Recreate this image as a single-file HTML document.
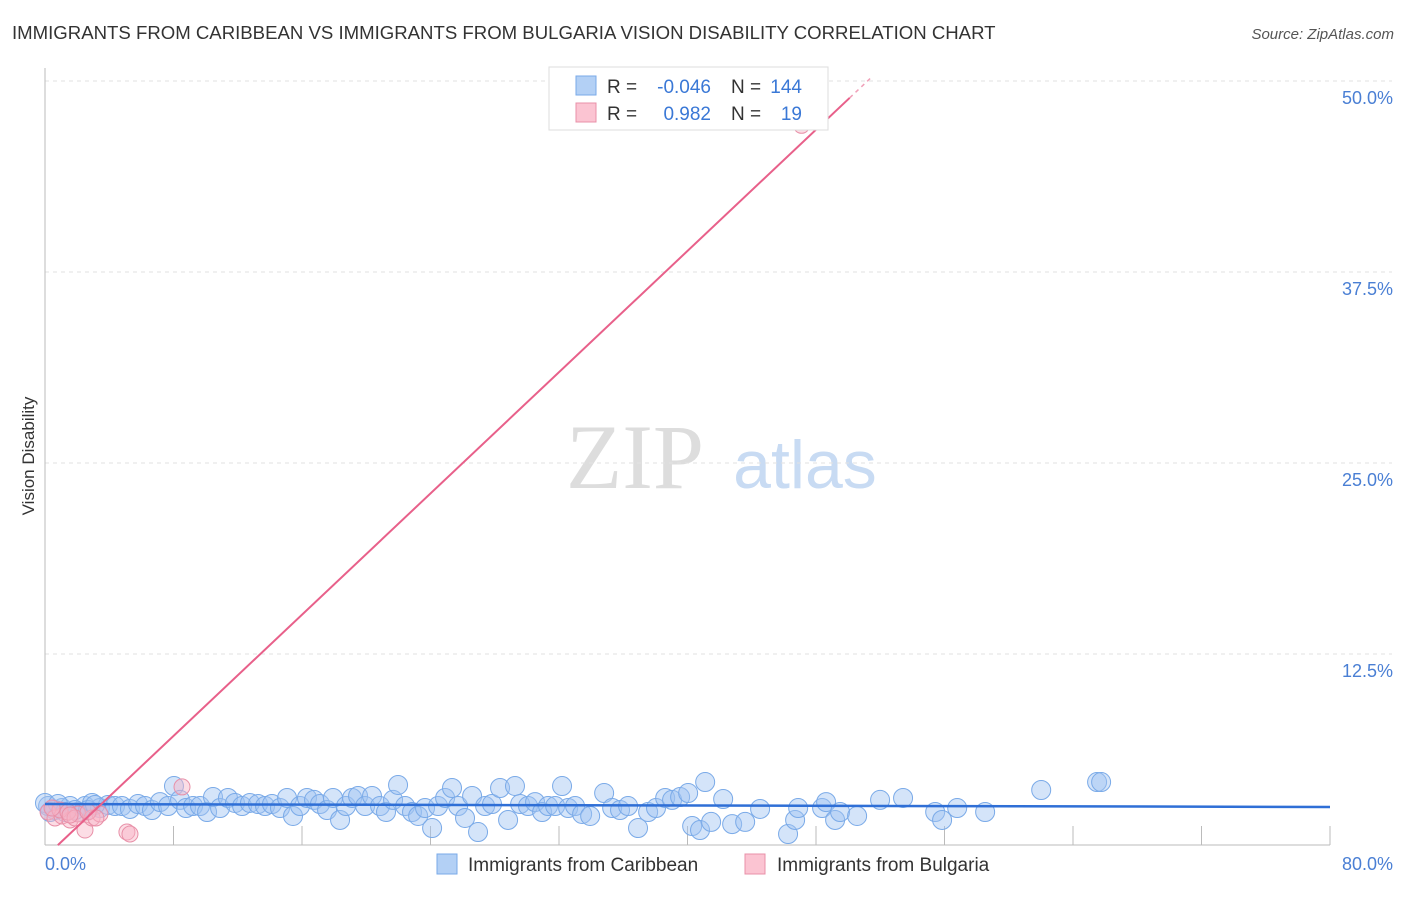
<!DOCTYPE html>
<html><head><meta charset="utf-8"><style>
body{margin:0;background:#fff;width:1406px;height:892px;overflow:hidden;font-family:"Liberation Sans",sans-serif}
</style></head><body>
<svg id="chart" width="1406" height="892" xmlns="http://www.w3.org/2000/svg" font-family="Liberation Sans, sans-serif">
<text x="12" y="39" font-size="18.6" fill="#333">IMMIGRANTS FROM CARIBBEAN VS IMMIGRANTS FROM BULGARIA VISION DISABILITY CORRELATION CHART</text>
<text x="1394" y="39" font-size="15" fill="#555" font-style="italic" text-anchor="end">Source: ZipAtlas.com</text>
<text transform="translate(34,456) rotate(-90)" font-size="17" fill="#333" text-anchor="middle">Vision Disability</text>
<g>
<text x="635" y="488" font-size="92" fill="#ddd" font-family="Liberation Serif, serif" text-anchor="middle">ZIP</text>
<text x="805" y="488" font-size="68" fill="#c8dbf3" text-anchor="middle">atlas</text>
</g>
<g id="grid"></g><g id="axes"></g><g id="pts"></g><g id="lines"></g>
<g>
<rect x="549" y="67" width="279" height="63" fill="#fff" stroke="#ddd"/>
<rect x="576" y="76" width="20" height="19" fill="#b3d0f5" stroke="#7aaae8"/>
<rect x="576" y="103" width="20" height="19" fill="#fbc4d2" stroke="#e890a8"/>
<text x="607" y="93" font-size="19" fill="#333">R =</text>
<text x="711" y="93" font-size="19" fill="#3a78d6" text-anchor="end">-0.046</text>
<text x="731" y="93" font-size="19" fill="#333">N =</text>
<text x="802" y="93" font-size="19" fill="#3a78d6" text-anchor="end">144</text>
<text x="607" y="120" font-size="19" fill="#333">R =</text>
<text x="711" y="120" font-size="19" fill="#3a78d6" text-anchor="end">0.982</text>
<text x="731" y="120" font-size="19" fill="#333">N =</text>
<text x="802" y="120" font-size="19" fill="#3a78d6" text-anchor="end">19</text>
</g>
<g>
<rect x="437" y="854" width="20" height="20" fill="#b3d0f5" stroke="#7aaae8"/>
<text x="468" y="871" font-size="19" fill="#333">Immigrants from Caribbean</text>
<rect x="745" y="854" width="20" height="20" fill="#fbc4d2" stroke="#e890a8"/>
<text x="777" y="871" font-size="19" fill="#333">Immigrants from Bulgaria</text>
</g>
</svg>
<script>
const yTicks=[12.5,25,37.5,50];
const yTickLabels=["12.5%","25.0%","37.5%","50.0%"];
const xTickLabels=["0.0%","80.0%"];
const caribX=[0.19,0.62,1.06,1.56,2.05,2.49,2.93,3.42,3.92,4.36,4.79,5.29,5.79,6.23,6.66,7.16,7.66,8.03,8.41,8.78,9.22,9.65,10.09,10.46,10.90,11.39,11.83,12.27,12.76,13.26,13.70,14.13,14.63,15.07,15.44,15.88,16.31,16.75,17.12,17.56,17.93,18.37,18.74,19.12,19.49,19.93,20.36,20.86,21.23,21.67,21.98,22.42,22.85,23.23,23.66,24.10,24.47,24.91,25.34,25.72,26.15,26.59,26.96,27.40,27.83,28.33,28.83,29.26,29.58,30.07,30.51,30.95,31.32,31.76,32.19,32.57,33.00,33.44,33.94,34.81,35.31,35.80,36.30,36.92,37.55,38.04,38.61,39.04,39.54,40.04,40.29,40.78,41.10,41.47,42.22,42.78,43.59,44.52,46.26,46.70,46.89,48.38,48.63,49.19,49.50,50.56,51.99,53.42,55.42,55.85,56.79,58.53,62.02,65.50,65.75,0.0,0.31,0.81,1.25,1.87,2.68,3.11];
const caribY=[2.55,2.29,2.42,2.55,2.16,2.55,2.75,2.42,2.62,2.55,2.55,2.36,2.68,2.55,2.29,2.81,2.55,3.86,2.95,2.42,2.55,2.55,2.16,3.14,2.42,3.08,2.75,2.55,2.75,2.68,2.55,2.68,2.42,3.08,1.90,2.55,3.08,2.95,2.68,2.29,3.08,1.64,2.55,3.08,3.21,2.55,3.21,2.55,2.16,2.95,3.93,2.55,2.16,1.90,2.42,1.11,2.55,3.08,3.73,2.55,1.77,3.21,0.85,2.55,2.68,3.73,1.64,3.86,2.68,2.55,2.81,2.16,2.55,2.55,3.86,2.42,2.55,2.03,1.90,3.40,2.42,2.29,2.55,1.11,2.16,2.42,3.08,2.95,3.14,3.40,1.24,0.98,4.12,1.51,3.01,1.37,1.51,2.36,0.72,1.64,2.42,2.42,2.81,1.64,2.16,1.90,2.95,3.08,2.16,1.64,2.42,2.16,3.60,4.12,4.12,2.75,2.16,2.68,2.16,2.29,2.29,2.62];
const bulgX=[0.19,0.62,1.06,1.56,2.05,2.49,2.93,3.42,5.10,5.29,8.53,0.93,1.43,1.87,0.44,2.68,3.17,47.1,1.56];
const bulgY=[2.16,1.77,1.90,1.64,2.03,0.98,1.77,2.03,0.85,0.72,3.80,2.29,2.16,1.77,2.42,2.16,1.77,47.1,1.96];
const caribTrend=[2.68,2.49];
const bulgTrend=[-0.8,48.8,50.1];
const ns="http://www.w3.org/2000/svg";
const X=v=>45+v/80*1285, Y=v=>845-v/12.5*191;
function mk(tag,attrs,parent){const e=document.createElementNS(ns,tag);for(const k in attrs)e.setAttribute(k,attrs[k]);parent.appendChild(e);return e;}
const grid=document.getElementById('grid'),axes=document.getElementById('axes'),pts=document.getElementById('pts'),lines=document.getElementById('lines');
yTicks.forEach((t,i)=>{
  const g=mk('line',{x1:45,x2:1392,y1:Y(t),y2:Y(t),stroke:'#e2e2e2','stroke-dasharray':'4,4'},grid);
  
  
  const l=mk('text',{x:1393,y:Y(t)+23,'font-size':18,fill:'#4a7fd4','text-anchor':'end'},axes);
  l.textContent=yTickLabels[i];
  
  
});
const ax=mk('line',{x1:45,x2:45,y1:68,y2:845,stroke:'#bbb'},axes);


const bx=mk('line',{x1:45,x2:1330,y1:845,y2:845,stroke:'#bbb'},axes);


for(let i=1;i<=10;i++){
  const t=mk('line',{x1:X(i*8),x2:X(i*8),y1:826,y2:845,stroke:'#bbb'},axes);
  
  
}
[[0,'start',45],[80,'end',1393]].forEach((a,i)=>{
  const l=mk('text',{x:a[2],y:870,'font-size':18,fill:'#4a7fd4','text-anchor':a[1]},axes);
  l.textContent=xTickLabels[i];
  
  
});
caribX.forEach((x,i)=>{
  const c=mk('circle',{cx:X(x),cy:Y(caribY[i]),r:9.5,fill:'rgba(160,196,242,0.45)',stroke:'#7aaae8','stroke-width':1},pts);
  
  
});
bulgX.forEach((x,i)=>{
  const c=mk('circle',{cx:X(x),cy:Y(bulgY[i]),r:8,fill:'rgba(248,180,198,0.45)',stroke:'#e890a8','stroke-width':1},pts);
  
  
});
const tl=mk('line',{x1:X(0),x2:X(80),y1:Y(caribTrend[0]),y2:Y(caribTrend[1]),stroke:'#2f6fd6','stroke-width':2.5},lines);


const slope=(bulgTrend[1]-bulgTrend[0])/50;
const px0=0.8, px1=bulgTrend[2];
const pl=mk('line',{x1:X(px0),x2:X(px1),y1:Y(bulgTrend[0]+slope*px0),y2:Y(bulgTrend[0]+slope*px1),stroke:'#e8608a','stroke-width':2},lines);


const pd=mk('line',{x1:X(px1),x2:X(51.4),y1:Y(bulgTrend[0]+slope*px1),y2:Y(bulgTrend[0]+slope*51.4),stroke:'#f0a0b8','stroke-width':1.5,'stroke-dasharray':'4,4'},lines);


</script>
</body></html>
